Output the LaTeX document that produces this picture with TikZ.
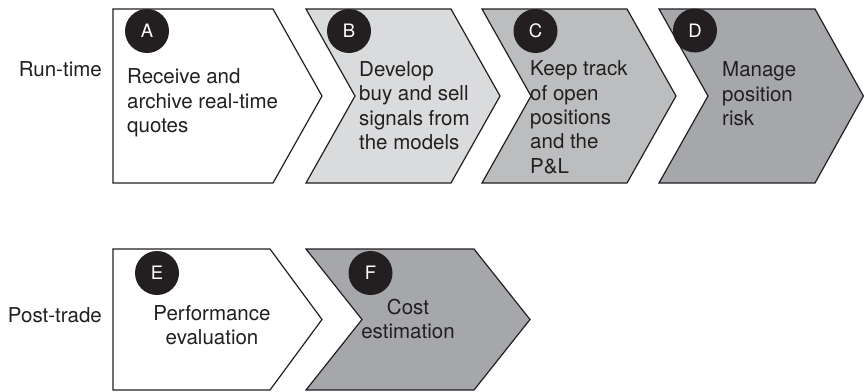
\documentclass[tikz,border=0pt]{standalone}
\usepackage{fontspec}
\setmainfont{TeX Gyre Heros}
\definecolor{gB}{HTML}{DADBDD}
\definecolor{gC}{HTML}{BBBDBF}
\definecolor{gD}{HTML}{A5A7AA}
\definecolor{dot}{HTML}{231F20}
\definecolor{ink}{HTML}{231F20}
\begin{document}
\begin{tikzpicture}[x=1pt,y=-1pt,
  chev/.style={draw=ink,line width=1.2pt,line join=miter},
  badge/.style={circle,fill=dot,minimum size=44pt,inner sep=0pt,text=white,font=\fontsize{18.5}{18.5}\selectfont},
  txt/.style={inner sep=0pt,align=left,anchor=base west,text=ink,font=\fontsize{20.5}{24.3}\selectfont},
  ctxt/.style={inner sep=0pt,align=center,anchor=base,text=ink,font=\fontsize{20.5}{24}\selectfont},
  lbl/.style={inner sep=0pt,anchor=base east,text=ink,font=\fontsize{20.5}{24}\selectfont}]
\useasboundingbox (0,0) rectangle (864,391);
% top row
\draw[chev,fill=white] (113,9) -- (273,9) -- (322,96) -- (273,183) -- (113,183) -- cycle;
\draw[chev,fill=gB] (306,9) -- (451,9) -- (500,96) -- (451,183) -- (306,183) -- (355,96) -- cycle;
\draw[chev,fill=gC] (482,9) -- (627,9) -- (676,96) -- (627,183) -- (482,183) -- (531,96) -- cycle;
\draw[chev,fill=gD] (659,9) -- (815,9) -- (863.4,96) -- (815,183) -- (659,183) -- (708,96) -- cycle;
% bottom row
\draw[chev,fill=white] (113,249) -- (270,249) -- (322,319.5) -- (270,390) -- (113,390) -- cycle;
\draw[chev,fill=gD] (306,249) -- (474,249) -- (530,319.5) -- (474,390) -- (306,390) -- (362,319.5) -- cycle;
% badges
\node[badge] (bA) at (147,31) {A};
\node[badge] (bB) at (349,31) {B};
\node[badge] (bC) at (535.5,31) {C};
\node[badge] (bD) at (695,30.5) {D};
\node[badge] (bE) at (157,273) {E};
\node[badge] (bF) at (370.5,273) {F};
% texts (anchor = baseline of the last line)
\node[txt] (tA) at (127,132.5) {Receive and\\archive real-time\\quotes};
\node[txt] (tB) at (359,149.5) {Develop\\buy and sell\\signals from\\the models};
\node[txt] (tC) at (530,173) {Keep track\\of open\\positions\\and the\\P\&L};
\node[txt] (tD) at (722,125.5) {Manage\\position\\risk};
\node[ctxt] (tE) at (212,344) {Performance\\evaluation};
\node[ctxt] (tF) at (408,338.5) {Cost\\estimation};
\node[lbl] (run) at (102,76) {Run-time};
\node[lbl] (post) at (102,322) {Post-trade};
\end{tikzpicture}
\end{document}
